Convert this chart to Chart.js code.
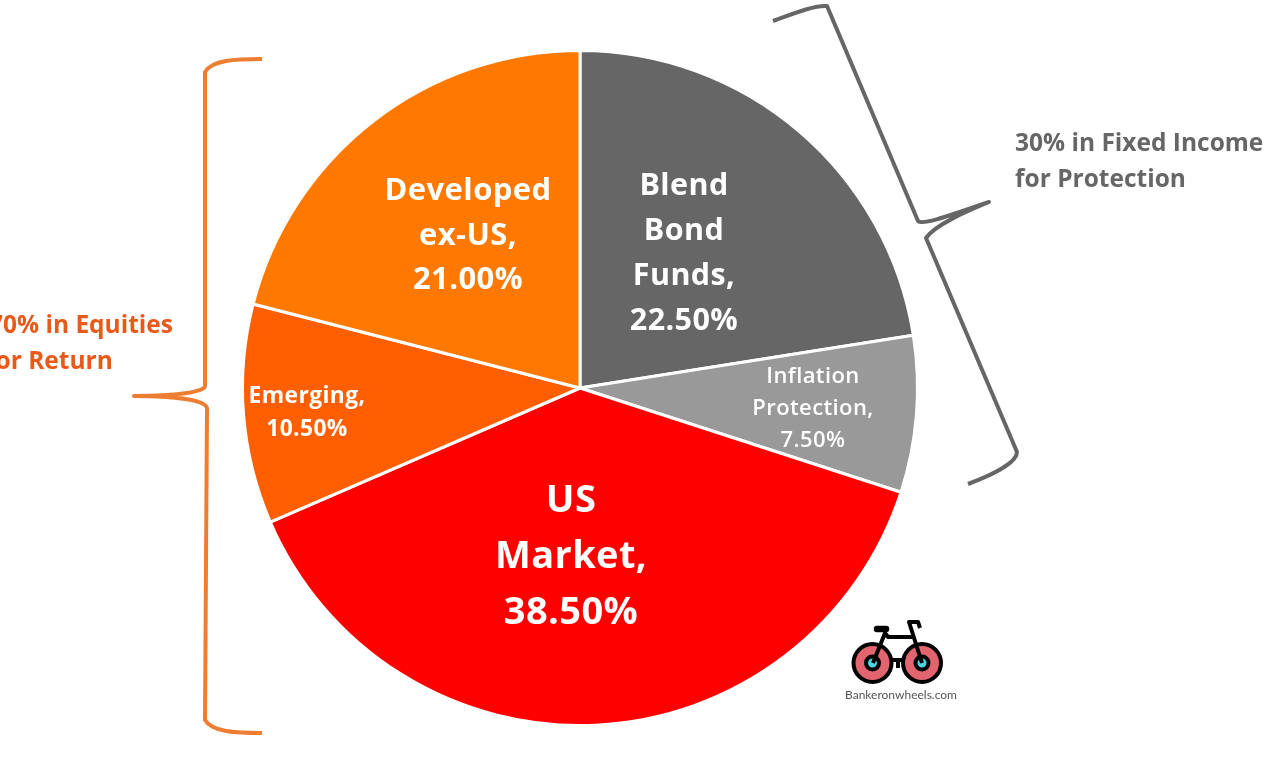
<!DOCTYPE html>
<html>
<head>
<meta charset="utf-8">
<title>Portfolio allocation</title>
<script src="https://cdn.jsdelivr.net/npm/chart.js@4"></script>
<style>
  html, body { margin: 0; padding: 0; background: #fff; }
  #holder { position: relative; width: 1280px; height: 764px; overflow: hidden; }
</style>
</head>
<body>
<div id="holder"><canvas id="myChart" width="1280" height="764"></canvas></div>
<script>
// data, clockwise from 12 o'clock
const categories = ['Blend Bond Funds', 'Inflation Protection', 'US Market', 'Emerging', 'Developed ex-US']
const shares = [22.5, 7.5, 38.5, 10.5, 21.0]
const sliceLabels = [
    ['Blend', 'Bond', 'Funds,', '22.50%'],
    ['Inflation', 'Protection,', '7.50%'],
    ['US', 'Market,', '38.50%'],
    ['Emerging,', '10.50%'],
    ['Developed', 'ex-US,', '21.00%']
]
const sliceColors = ['#666666', '#999999', '#ff0000', '#ff5f00', '#ff7800']

// label layout: centre x, first baseline y, line height, font size
const labelLayout = [
    {x: 684, y: 195, lh: 45, size: 30.5},
    {x: 813, y: 383, lh: 32, size: 22},
    {x: 571, y: 512, lh: 56, size: 38},
    {x: 307, y: 403, lh: 33, size: 22.8},
    {x: 468, y: 200, lh: 44.5, size: 31}
]

const font = '"Open Sans", sans-serif'

// brackets and side captions sit outside the pie, so draw them in a plugin
const annotations = {
    id: 'annotations',
    afterDraw(chart){
        const ctx = chart.ctx
        ctx.save()

        // text in the slices
        ctx.textAlign = 'center'
        ctx.fillStyle = '#fff'
        ctx.letterSpacing = '0.4px'
        sliceLabels.forEach((lines, i) => {
            const l = labelLayout[i]
            ctx.font = `${i == 1 ? 600 : 700} ${l.size}px ${font}`
            lines.forEach((t, j) => ctx.fillText(t, l.x, l.y + j * l.lh))
        })
        ctx.letterSpacing = '0px'

        // orange bracket
        ctx.lineCap = 'butt'
        ctx.lineJoin = 'round'
        ctx.lineWidth = 4
        ctx.strokeStyle = '#ed7d31'
        ctx.beginPath()
        ctx.moveTo(262, 59)
        ctx.bezierCurveTo(235, 59, 212, 60, 205, 72)
        ctx.lineTo(205, 386)
        ctx.bezierCurveTo(205, 392, 175, 396, 134, 396)
        ctx.bezierCurveTo(175, 396, 205, 400, 207, 408)
        ctx.lineTo(205, 720)
        ctx.bezierCurveTo(212, 732, 235, 733, 262, 733)
        ctx.stroke()

        // grey bracket
        ctx.strokeStyle = '#666666'
        ctx.beginPath()
        ctx.moveTo(773, 21)
        ctx.bezierCurveTo(795, 13, 815, 5, 827, 6)
        ctx.lineTo(918, 221)
        ctx.bezierCurveTo(922, 225, 940, 219, 989, 202)
        ctx.bezierCurveTo(965, 212, 935, 225, 926, 238)
        ctx.lineTo(1017, 452)
        ctx.bezierCurveTo(1017, 462, 995, 474, 968, 484)
        ctx.stroke()

        // side captions
        ctx.textAlign = 'left'
        ctx.font = `700 24.5px ${font}`
        ctx.fillStyle = '#e8591a'
        ctx.fillText('70% in Equities', -11, 333)
        ctx.fillText('for Return', -14, 369)
        ctx.fillStyle = '#666666'
        ctx.fillText('30% in Fixed Income', 1015, 151)
        ctx.fillText('for Protection', 1015, 187)

        drawBike(ctx)
        ctx.restore()
    }
}

// little bike logo bottom right
function drawBike(ctx){
    [[872.5, 663], [922, 663]].forEach(w => {
        ctx.beginPath(); ctx.arc(w[0], w[1], 19, 0, Math.PI * 2)
        ctx.fillStyle = '#e2646f'; ctx.fill()
        ctx.lineWidth = 4; ctx.strokeStyle = '#000'; ctx.stroke()
        ctx.beginPath(); ctx.arc(w[0], w[1], 6.5, 0, Math.PI * 2)
        ctx.fillStyle = '#4fd6e6'; ctx.fill()
        ctx.lineWidth = 4; ctx.stroke()
    })
    ctx.strokeStyle = '#000'
    ctx.lineWidth = 4
    ctx.beginPath()
    ctx.moveTo(873, 663); ctx.lineTo(885, 633); ctx.lineTo(888, 637); ctx.lineTo(913, 637)
    ctx.moveTo(922, 663); ctx.lineTo(909, 622); ctx.lineTo(918, 622); ctx.lineTo(920, 628)
    ctx.moveTo(893, 660); ctx.lineTo(902, 660)
    ctx.moveTo(898, 660); ctx.lineTo(898, 668)
    ctx.stroke()
    ctx.lineWidth = 6.5
    ctx.lineCap = 'round'
    ctx.beginPath(); ctx.moveTo(877, 629); ctx.lineTo(886, 629); ctx.stroke()
    ctx.textAlign = 'center'
    ctx.fillStyle = '#555'
    ctx.font = '12px Lato, sans-serif'
    ctx.fillText('Bankeronwheels.com', 901, 699)
}

new Chart(document.getElementById('myChart').getContext('2d'), {
    type: 'pie',
    data: {
        labels: categories,
        datasets: [{
            data: shares,
            backgroundColor: sliceColors,
            borderColor: '#fff',
            borderWidth: 3
        }]
    },
    options: {
        responsive: false,
        animation: false,
        layout: {padding: {left: 241, right: 361, top: 49, bottom: 37}},
        plugins: {legend: {display: false}, tooltip: {enabled: false}}
    },
    plugins: [annotations]
})
</script>
</body>
</html>
